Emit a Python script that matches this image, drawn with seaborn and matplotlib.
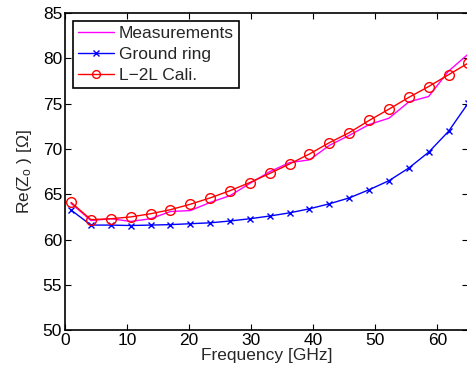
import numpy as np
import pandas as pd
import matplotlib
matplotlib.use("Agg")
import matplotlib.pyplot as plt
import seaborn as sns

# frequency points [GHz]
freq = [1.0, 4.2, 7.4, 10.6, 13.8, 17.0, 20.2, 23.4, 26.6, 29.8, 33.0,
        36.2, 39.4, 42.6, 45.8, 49.0, 52.2, 55.4, 58.6, 61.8, 65.0]

measurements = [64.0, 62.1, 62.3, 62.0, 62.3, 63.1, 63.2, 64.1, 64.85, 66.2, 67.5,
                68.5, 68.8, 70.4, 71.5, 72.7, 73.4, 75.2, 75.8, 78.6, 80.5]

ground_ring = [63.25, 61.6, 61.6, 61.55, 61.6, 61.65, 61.75, 61.85, 62.05, 62.3, 62.6,
               62.95, 63.4, 63.95, 64.6, 65.5, 66.5, 67.9, 69.65, 71.95, 75.1]

l2l_cali = [64.1, 62.2, 62.3, 62.5, 62.85, 63.3, 63.9, 64.6, 65.4, 66.3, 67.3,
            68.35, 69.45, 70.7, 71.8, 73.15, 74.4, 75.7, 76.9, 78.2, 79.5]

sns.set_style("ticks")
plt.rcParams['font.family'] = ['Liberation Sans', 'DejaVu Sans']
plt.rcParams['mathtext.default'] = 'regular'
plt.rcParams['xtick.direction'] = 'in'
plt.rcParams['ytick.direction'] = 'in'

fig = plt.figure(figsize=(4.67, 3.76), dpi=100)
ax = fig.add_axes([0.139, 0.122, 0.864, 0.843])

sns.lineplot(x=freq, y=measurements, ax=ax, color=(1, 0, 1), lw=1,
             label='Measurements')
sns.lineplot(x=freq, y=ground_ring, ax=ax, color=(0, 0, 1), lw=1,
             marker='x', markersize=5, markeredgecolor=(0, 0, 1),
             markeredgewidth=1, label='Ground ring')
sns.lineplot(x=freq, y=l2l_cali, ax=ax, color=(1, 0, 0), lw=1,
             marker='o', markersize=7, markerfacecolor='none',
             markeredgecolor=(1, 0, 0), markeredgewidth=1, label='L\u22122L Cali.')

ax.set_xlim(0, 65)
ax.set_ylim(50, 85)
ax.set_xticks([0, 10, 20, 30, 40, 50, 60])
ax.set_yticks([50, 55, 60, 65, 70, 75, 80, 85])
ax.tick_params(labelsize=12.5, top=True, right=True, length=4, width=0.8,
               colors='black', pad=2)
for sp in ax.spines.values():
    sp.set_visible(True)
    sp.set_linewidth(1.2)
    sp.set_color('black')

ax.set_xlabel('Frequency [GHz]', fontsize=12.5, labelpad=0)
ax.set_ylabel('Re(Z$_o$ ) [\u03a9]', fontsize=12.5, labelpad=6)

leg = ax.legend(loc='upper left', fontsize=12.5, frameon=True, fancybox=False,
                edgecolor='black', framealpha=1, borderpad=0.3,
                labelspacing=0.33, handlelength=2.1, handletextpad=0.25,
                borderaxespad=0.45, markerscale=0.8)
leg.get_frame().set_linewidth(1.2)

fig.savefig('out.png', dpi=100)
